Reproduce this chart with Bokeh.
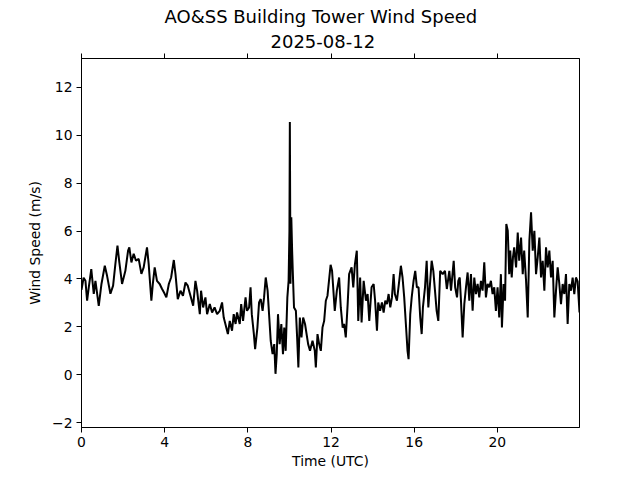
from bokeh.plotting import figure
from bokeh.models import Range1d, FixedTicker, LinearAxis, Title
from bokeh.embed import file_html
from bokeh.resources import INLINE

# ---- data ----
hours = [0.00, 0.10, 0.19, 0.27, 0.35, 0.47, 0.59, 0.67, 0.83, 0.96,
         1.12, 1.23, 1.39, 1.52, 1.63, 1.73, 1.82, 1.95, 2.11, 2.24,
         2.30, 2.40, 2.51, 2.62, 2.75, 2.88, 2.99, 3.15, 3.23, 3.36,
         3.43, 3.52, 3.63, 3.76, 3.87, 4.00, 4.08, 4.20, 4.31, 4.44,
         4.52, 4.63, 4.76, 4.88, 5.00, 5.11, 5.24, 5.37, 5.48, 5.56,
         5.69, 5.75, 5.85, 5.96, 6.04, 6.17, 6.28, 6.40, 6.52, 6.65,
         6.76, 6.84, 6.92, 7.04, 7.13, 7.24, 7.32, 7.41, 7.48, 7.61,
         7.68, 7.77, 7.89, 7.96, 8.06, 8.13, 8.19, 8.29, 8.35, 8.46,
         8.54, 8.62, 8.71, 8.78, 8.86, 8.95, 9.02, 9.10, 9.19, 9.27,
         9.33, 9.39, 9.45, 9.53, 9.61, 9.69, 9.75, 9.82, 9.90, 9.96,
         10.00, 10.02, 10.05, 10.09, 10.13, 10.16, 10.22, 10.31, 10.37, 10.43,
         10.50, 10.58, 10.66, 10.75, 10.90, 10.99, 11.11, 11.22, 11.27, 11.35,
         11.43, 11.51, 11.59, 11.67, 11.75, 11.83, 11.98, 12.05, 12.18, 12.28,
         12.39, 12.47, 12.56, 12.63, 12.71, 12.80, 12.87, 12.99, 13.07, 13.15,
         13.24, 13.31, 13.40, 13.47, 13.57, 13.68, 13.76, 13.84, 13.95, 14.05,
         14.12, 14.21, 14.27, 14.36, 14.45, 14.53, 14.61, 14.69, 14.77, 14.85,
         14.93, 15.01, 15.07, 15.17, 15.28, 15.36, 15.44, 15.52, 15.60, 15.68,
         15.73, 15.81, 15.88, 15.97, 16.05, 16.13, 16.21, 16.29, 16.36, 16.42,
         16.52, 16.60, 16.68, 16.76, 16.84, 16.92, 17.00, 17.08, 17.16, 17.25,
         17.37, 17.48, 17.57, 17.69, 17.77, 17.90, 17.97, 18.06, 18.12, 18.19,
         18.25, 18.33, 18.41, 18.49, 18.57, 18.65, 18.73, 18.81, 18.89, 18.97,
         19.05, 19.13, 19.21, 19.29, 19.37, 19.45, 19.53, 19.61, 19.69, 19.77,
         19.85, 19.93, 20.01, 20.09, 20.17, 20.22, 20.30, 20.37, 20.43, 20.50,
         20.57, 20.62, 20.69, 20.75, 20.81, 20.90, 20.98, 21.05, 21.14, 21.22,
         21.29, 21.38, 21.46, 21.54, 21.62, 21.70, 21.78, 21.86, 21.94, 22.02,
         22.10, 22.18, 22.26, 22.34, 22.42, 22.50, 22.58, 22.66, 22.74, 22.82,
         22.90, 22.98, 23.06, 23.14, 23.22, 23.30, 23.38, 23.46, 23.54, 23.62,
         23.70, 23.78, 23.86, 23.95]

speed = [3.55, 4.05, 3.92, 3.09, 3.65, 4.41, 3.38, 3.92, 2.88, 3.79,
         4.55, 4.13, 3.38, 3.72, 4.63, 5.39, 4.69, 3.79, 4.34, 5.18,
         5.32, 4.69, 5.05, 4.76, 4.84, 4.21, 4.48, 5.32, 4.63, 3.09,
         3.79, 4.48, 3.92, 3.79, 3.59, 3.38, 3.23, 3.79, 4.06, 4.79,
         4.20, 3.16, 3.51, 3.30, 3.85, 3.72, 3.30, 2.88, 3.92, 3.51,
         2.53, 3.51, 2.81, 3.23, 2.53, 2.95, 2.60, 2.81, 2.53, 2.67,
         3.02, 2.39, 2.12, 1.70, 2.25, 1.84, 2.53, 2.12, 2.60, 2.12,
         2.95, 2.25, 3.23, 2.67, 2.81, 3.65, 2.53, 1.70, 1.07, 1.97,
         3.02, 3.16, 2.67, 3.23, 4.06, 3.51, 2.53, 1.42, 0.86, 1.28,
         0.04, 0.86, 2.53, 1.28, 2.12, 0.86, 1.97, 1.00, 3.23, 3.92,
         6.00, 10.55, 3.80, 6.57, 5.18, 4.34, 2.81, 2.67, 1.56, 0.31,
         2.39, 1.56, 2.39, 2.12, 1.28, 1.00, 1.42, 1.00, 0.31, 1.70,
         1.28, 1.00, 1.97, 2.25, 3.09, 3.30, 4.59, 4.34, 2.67, 3.51,
         4.06, 2.81, 1.97, 2.12, 1.56, 2.95, 4.20, 4.48, 3.65, 4.62,
         5.18, 2.25, 4.06, 2.18, 3.92, 3.09, 3.37, 2.25, 3.65, 3.79,
         3.09, 1.84, 3.02, 2.67, 3.02, 2.60, 3.09, 2.95, 3.37, 2.81,
         3.23, 4.20, 3.37, 3.09, 3.92, 4.55, 4.06, 3.23, 2.12, 1.00,
         0.65, 2.53, 3.23, 3.92, 4.34, 3.65, 3.65, 2.39, 1.70, 2.81,
         3.65, 4.76, 2.81, 3.79, 4.76, 4.34, 3.51, 2.67, 2.25, 4.34,
         4.20, 4.34, 3.58, 4.34, 3.51, 4.76, 3.65, 3.23, 3.92, 4.06,
         3.09, 1.56, 2.95, 3.65, 4.27, 3.09, 4.20, 2.67, 4.06, 3.37,
         3.79, 3.23, 3.92, 3.51, 4.69, 3.23, 3.79, 3.65, 3.92, 3.37,
         3.65, 2.67, 3.65, 2.39, 4.20, 1.97, 3.79, 3.09, 6.29, 6.01,
         4.20, 5.18, 4.06, 4.90, 5.32, 4.48, 5.94, 4.76, 5.73, 4.20,
         5.18, 3.92, 2.39, 5.60, 6.78, 5.18, 6.01, 4.20, 4.90, 5.73,
         4.06, 4.76, 3.51, 5.32, 4.48, 5.18, 4.06, 4.76, 2.39, 3.51,
         4.48, 3.79, 2.95, 3.79, 3.37, 4.20, 2.12, 3.79, 3.51, 4.06,
         3.37, 4.06, 3.90, 2.60]

x_ticks = [0, 4, 8, 12, 16, 20]
y_ticks = [-2, 0, 2, 4, 6, 8, 10, 12]
y_tick_labels = {-2: "\u22122", 0: "0", 2: "2", 4: "4", 6: "6", 8: "8", 10: "10", 12: "12"}
title_line1 = "AO&SS Building Tower Wind Speed"
title_line2 = "2025-08-12"
x_label = "Time (UTC)"
y_label = "Wind Speed (m/s)"

FONT = "DejaVu Sans"
TICK_SIZE = "13.9px"

p = figure(width=640, height=480,
           x_range=Range1d(0, 23.95), y_range=Range1d(-2.2, 13.2),
           output_backend="svg", toolbar_location=None,
           min_border_left=81, min_border_right=61,
           min_border_top=58, min_border_bottom=53)

p.grid.visible = False
p.background_fill_color = "white"
p.border_fill_color = "white"
p.outline_line_color = "black"
p.outline_line_width = 1
p.outline_line_alpha = 1.0

p.line(hours, speed, line_color="black", line_width=2)


def style_axis(ax):
    ax.axis_line_color = "black"
    ax.major_tick_line_color = "black"
    ax.major_tick_out = 5
    ax.major_tick_in = 0
    ax.minor_tick_out = 0
    ax.minor_tick_in = 0
    ax.major_label_text_font = FONT
    ax.major_label_text_font_size = TICK_SIZE
    ax.major_label_text_color = "black"
    ax.major_label_standoff = 4
    ax.axis_label_text_font = FONT
    ax.axis_label_text_font_size = TICK_SIZE
    ax.axis_label_text_font_style = "normal"
    ax.axis_label_text_color = "black"


xa = p.xaxis[0]
xa.ticker = FixedTicker(ticks=x_ticks)
xa.axis_label = x_label
xa.axis_label_standoff = 3
style_axis(xa)

ya = p.yaxis[0]
ya.ticker = FixedTicker(ticks=y_ticks)
ya.major_label_overrides = y_tick_labels
ya.axis_label = y_label
ya.axis_label_standoff = 6
style_axis(ya)

top = LinearAxis(ticker=FixedTicker(ticks=x_ticks))
style_axis(top)
top.major_label_overrides = {t: "" for t in x_ticks}
top.major_label_text_font_size = "0px"
top.major_label_standoff = 0
p.add_layout(top, "above")

# matplotlib suptitle is centred on the whole figure, left offsets place it so
for txt, off, so in ((title_line2, 189, 12), (title_line1, 83, 0)):
    p.add_layout(Title(text=txt, align="left", offset=off, standoff=so,
                       text_font=FONT, text_font_size="18px",
                       text_font_style="normal", text_color="black"), "above")

open("out.html", "w").write(file_html(p, INLINE))
